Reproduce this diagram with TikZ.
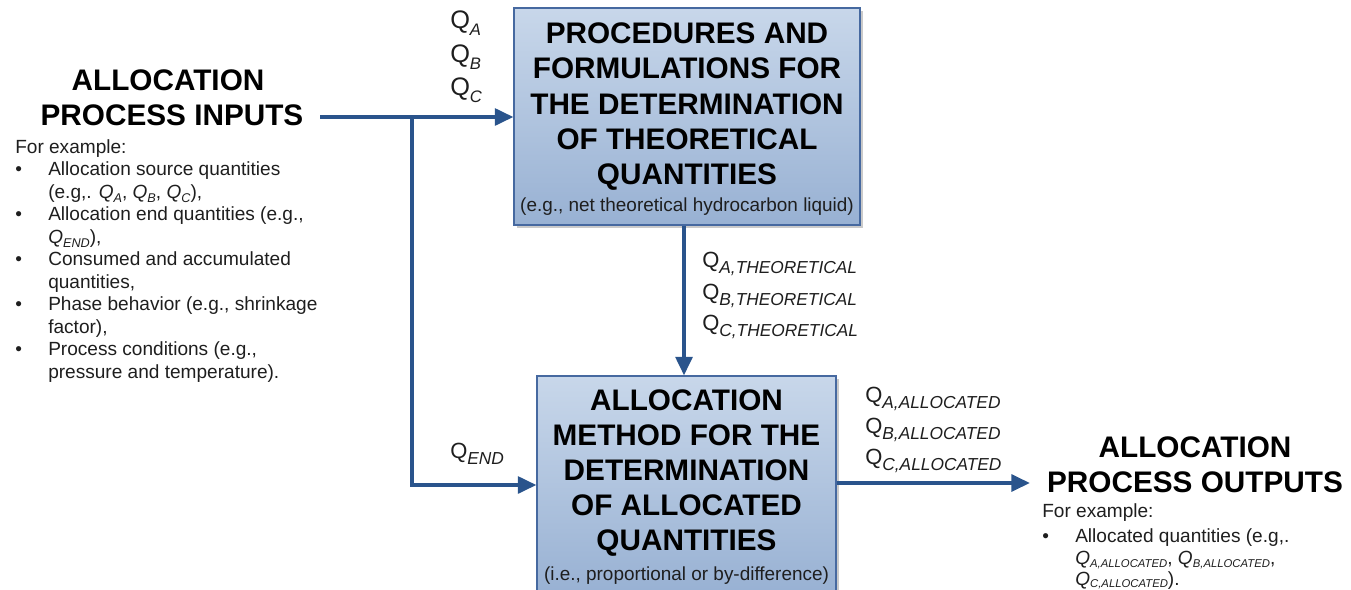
\documentclass[tikz,border=0pt]{standalone}
\usepackage{fontspec}
\setmainfont{Liberation Sans}
\usetikzlibrary{arrows.meta,shadows}
\definecolor{arrblue}{RGB}{42,84,140}
\definecolor{boxtop}{RGB}{200,215,234}
\definecolor{boxbot}{RGB}{152,177,211}
\definecolor{boxline}{RGB}{70,105,160}
\definecolor{txt}{RGB}{30,30,30}
\newcommand{\QL}[1]{Q\raisebox{-0.28em}{\fontsize{13}{13}\selectfont\itshape #1}}
\newcommand{\QT}[1]{{\fontsize{19}{19}\selectfont Q}\raisebox{-0.3em}{\fontsize{12.5}{12.5}\selectfont\itshape #1}}
\newcommand{\QI}[1]{\textit{Q}\raisebox{-0.25em}{\fontsize{9.5}{9.5}\selectfont\itshape #1}}
\newcommand{\QO}[1]{\textit{Q}\raisebox{-0.12em}{\fontsize{8.5}{8.5}\selectfont\itshape #1}}
\newcommand{\smallline}{\fontsize{14.2}{17}\selectfont\mdseries\color{txt}}
\tikzset{
  arr/.style={draw=arrblue, line width=3pt, -{Triangle[length=14pt,width=12.5pt]}},
  procbox/.style={draw=boxline, line width=0.8pt, top color=boxtop, bottom color=boxbot,
    drop shadow={shadow xshift=2pt, shadow yshift=-2pt, fill=black!35, opacity=0.6},
    inner sep=0pt, align=center, text=black, font=\fontsize{22.3}{26.3}\selectfont\bfseries},
  heading/.style={font=\fontsize{22.3}{26.3}\selectfont\bfseries, text=black, align=center, inner sep=0pt},
  qlab/.style={font=\fontsize{16.5}{23.5}\selectfont, text=txt, inner sep=0pt, anchor=west},
  listtxt/.style={font=\fontsize{14.3}{16.9}\selectfont, text=txt, inner sep=0pt, anchor=north west},
}
\begin{document}
\begin{tikzpicture}[x=0.75pt,y=-0.75pt]
\useasboundingbox (0,0) rectangle (1351,589);
% boxes
\node[procbox, minimum width=259.5pt, minimum height=162.75pt] (box1) at (687,116.5) {\rule{0pt}{19.75pt}PROCEDURES AND\\FORMULATIONS FOR\\THE DETERMINATION\\OF THEORETICAL\\QUANTITIES\\[-5.75pt]\smallline (e.g., net theoretical hydrocarbon liquid)};
\node[procbox, minimum width=224.25pt, minimum height=163.5pt] (box2) at (686.5,485) {\rule{0pt}{18.25pt}ALLOCATION\\METHOD FOR THE\\DETERMINATION\\OF ALLOCATED\\QUANTITIES\\[-4.25pt]\smallline (i.e., proportional or by-difference)};
% input heading
\node[heading] (inh1) at (168,80) {ALLOCATION};
\node[heading] (inh2) at (172,115) {PROCESS INPUTS};
\node[listtxt] (inlist) at (15,137) {%
\begin{tabular}{@{}p{24.75pt}@{}l@{}}
\multicolumn{2}{@{}l@{}}{For example:}\\
\textbullet & Allocation source quantities\\
 & (e.g,. \QI{A}, \QI{B}, \QI{C}),\\
\textbullet & Allocation end quantities (e.g.,\\
 & \QI{END}),\\
\textbullet & Consumed and accumulated\\
 & quantities,\\
\textbullet & Phase behavior (e.g., shrinkage\\
 & factor),\\
\textbullet & Process conditions (e.g.,\\
 & pressure and temperature).
\end{tabular}};
% output heading
\node[heading] (outh1) at (1195,447) {ALLOCATION};
\node[heading] (outh2) at (1195,482) {PROCESS OUTPUTS};
\node[listtxt] (outlist) at (1042,501) {%
\begin{tabular}{@{}p{24.75pt}@{}l@{}}
\multicolumn{2}{@{}l@{}}{For example:}\\[2pt]
\textbullet & Allocated quantities (e.g,.\\
 & \QO{A,ALLOCATED}, \QO{B,ALLOCATED},\\[-1.5pt]
 & \QO{C,ALLOCATED}).
\end{tabular}};
% labels
\node[qlab] (qa) at (450,23) {\QT{A}};
\node[qlab] (qb) at (450,57) {\QT{B}};
\node[qlab] (qc) at (450,90) {\QT{C}};
\node[qlab] (qat) at (702,264) {\QL{A,THEORETICAL}};
\node[qlab] (qbt) at (702,296) {\QL{B,THEORETICAL}};
\node[qlab] (qct) at (702,327) {\QL{C,THEORETICAL}};
\node[qlab] (qaa) at (865,399) {\QL{A,ALLOCATED}};
\node[qlab] (qba) at (865,430) {\QL{B,ALLOCATED}};
\node[qlab] (qca) at (865,461) {\QL{C,ALLOCATED}};
\node[qlab] (qend) at (450,454) {\QL{END}};
% connectors
\coordinate (start) at (320,117);
\coordinate (split) at (412,117);
\coordinate (vx) at (684,0);
\coordinate (outend) at (1030,483);
\draw[arr] (start) -- (box1.west |- start);
\draw[arr] (split) |- (box2.west);
\draw[arr] (box1.south -| vx) -- (box2.north -| vx);
\draw[arr] (box2.east |- outend) -- (outend);
\end{tikzpicture}
\end{document}
